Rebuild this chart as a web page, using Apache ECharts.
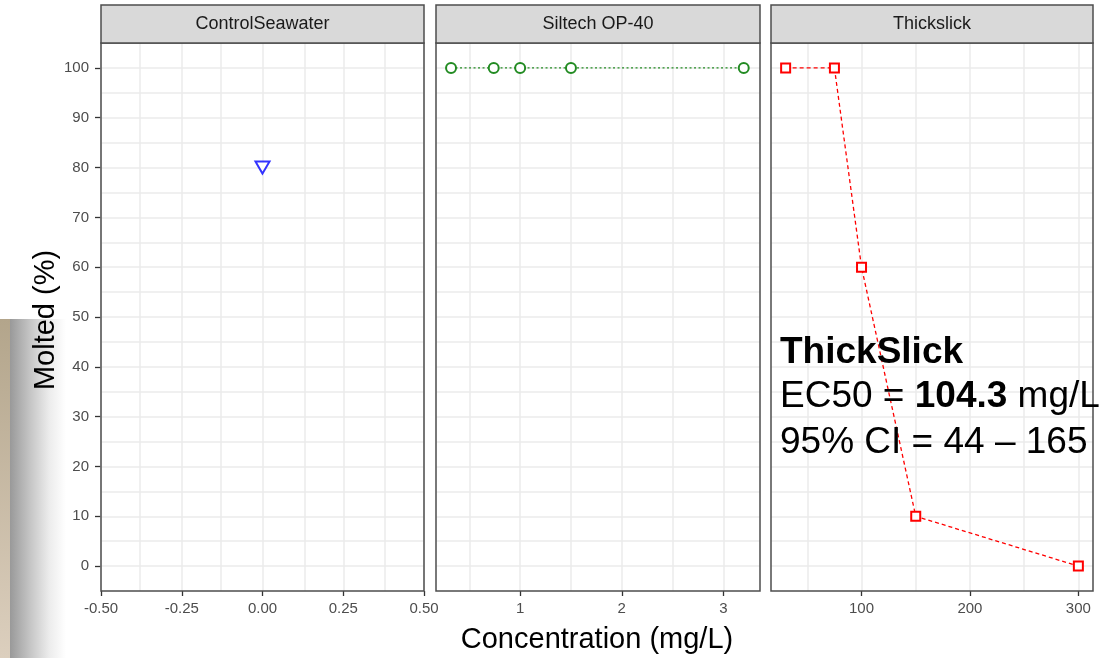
<!DOCTYPE html>
<html><head><meta charset="utf-8">
<script src="https://cdn.jsdelivr.net/npm/echarts@6/dist/echarts.min.js"></script>
<style>html,body{margin:0;padding:0;background:#fff}#c{width:1102px;height:658px}</style>
</head><body><div id="c"></div>
<script>
// ---- data ----
const panelTitles = ['ControlSeawater', 'Siltech OP-40', 'Thickslick'];
const controlX = [0];
const controlY = [80];
const siltechX = [0.32, 0.74, 1, 1.5, 3.2];
const siltechY = [100, 100, 100, 100, 100];
const thickX = [30, 75, 100, 150, 300];
const thickY = [100, 100, 60, 10, 0];
const yTicks = [0, 10, 20, 30, 40, 50, 60, 70, 80, 90, 100];
const yMinor = [5, 15, 25, 35, 45, 55, 65, 75, 85, 95];
const x1Ticks = [-0.5, -0.25, 0, 0.25, 0.5];
const x1Minor = [-0.375, -0.125, 0.125, 0.375];
const x2Ticks = [1, 2, 3];
const x2Minor = [0.5, 1.5, 2.5];
const x3Ticks = [100, 200, 300];
const x3Minor = [50, 150, 250];
const xRanges = [[-0.5, 0.5], [0.172, 3.36], [16.5, 313.5]];
const yRange = [-5, 105];

// ---- layout ----
const FONT = '"Liberation Sans", Arial, sans-serif';
const panelsPx = [{left: 101, width: 323}, {left: 436, width: 324}, {left: 771, width: 322}];
const TOP = 43, HEIGHT = 548;
const GRID = '#ebebeb';

const xTicksAll = [x1Ticks, x2Ticks, x3Ticks];
const xMinorAll = [x1Minor, x2Minor, x3Minor];
const xFormat = [v => v.toFixed(2), v => String(v), v => String(v)];

const grids = panelsPx.map(p => ({left: p.left, width: p.width, top: TOP, height: HEIGHT, containLabel: false}));

const xAxes = panelsPx.map((p, i) => ({
  type: 'value', gridIndex: i, min: xRanges[i][0], max: xRanges[i][1], position: 'bottom',
  axisLine: {show: false, onZero: false},
  axisTick: {show: true, length: 5, lineStyle: {color: '#333', width: 1.3}, customValues: xTicksAll[i]},
  axisLabel: {show: true, margin: 10, color: '#4d4d4d', fontSize: 15, fontFamily: FONT,
    customValues: xTicksAll[i], formatter: xFormat[i]},
  splitLine: {show: false}
}));

const yAxes = panelsPx.map((p, i) => ({
  type: 'value', gridIndex: i, min: yRange[0], max: yRange[1], position: 'left',
  axisLine: {show: false, onZero: false},
  axisTick: {show: i === 0, length: 6, lineStyle: {color: '#333', width: 1.3}, customValues: yTicks},
  axisLabel: {show: i === 0, margin: 12, color: '#4d4d4d', fontSize: 15, fontFamily: FONT, customValues: yTicks},
  splitLine: {show: false}
}));

const gridSeries = panelsPx.map((p, i) => ({
  type: 'line', xAxisIndex: i, yAxisIndex: i, data: [], silent: true, z: 1,
  markLine: {
    silent: true, symbol: ['none', 'none'], label: {show: false}, animation: false,
    lineStyle: {color: GRID, width: 1.5, type: 'solid'},
    emphasis: {disabled: true},
    data: [
      ...xTicksAll[i].map(v => ({xAxis: v})),
      ...xMinorAll[i].map(v => ({xAxis: v})),
      ...yTicks.map(v => ({yAxis: v})),
      ...yMinor.map(v => ({yAxis: v}))
    ]
  }
}));

const zip = (xs, ys) => xs.map((x, k) => [x, ys[k]]);

const dataSeries = [
  {type: 'scatter', xAxisIndex: 0, yAxisIndex: 0, data: zip(controlX, controlY),
    symbol: 'emptyTriangle', symbolRotate: 180, symbolSize: [14, 12],
    itemStyle: {color: '#0000ff', borderColor: '#0000ff', borderWidth: 1.4}, z: 5},
  {type: 'line', xAxisIndex: 1, yAxisIndex: 1, data: zip(siltechX, siltechY),
    symbol: 'emptyCircle', symbolSize: 10, showAllSymbol: true,
    lineStyle: {color: '#228b22', width: 1.4, type: [2, 2.5]},
    itemStyle: {color: '#228b22', borderColor: '#228b22', borderWidth: 1.4}, z: 5},
  {type: 'line', xAxisIndex: 2, yAxisIndex: 2, data: zip(thickX, thickY),
    symbol: 'emptyRect', symbolSize: 9, showAllSymbol: true,
    lineStyle: {color: '#ff0000', width: 1.3, type: [4, 3]},
    itemStyle: {color: '#ff0000', borderColor: '#ff0000', borderWidth: 1.4}, z: 5}
];

const graphics = [];
// left slide decoration
graphics.push({type: 'rect', z: -10, shape: {x: 10, y: 319, width: 56, height: 339},
  style: {fill: new echarts.graphic.LinearGradient(0, 0, 1, 0, [
    {offset: 0, color: '#999999'}, {offset: 0.35, color: '#c4c4c4'}, {offset: 0.7, color: '#ececec'}, {offset: 1, color: '#ffffff'}])}});
graphics.push({type: 'rect', z: -9, shape: {x: 0, y: 319, width: 10, height: 339},
  style: {fill: new echarts.graphic.LinearGradient(0, 0, 0, 1, [
    {offset: 0, color: '#b3a58b'}, {offset: 1, color: '#dccfbe'}])}});
// panel borders and strips
panelsPx.forEach((p, i) => {
  graphics.push({type: 'rect', z: 50, shape: {x: p.left, y: TOP, width: p.width, height: HEIGHT},
    style: {fill: 'none', stroke: '#4d4d4d', lineWidth: 1.5}});
  graphics.push({type: 'rect', z: 50, shape: {x: p.left, y: 5, width: p.width, height: TOP - 5},
    style: {fill: '#d9d9d9', stroke: '#4d4d4d', lineWidth: 1.5}});
  graphics.push({type: 'text', z: 51, x: p.left + p.width / 2, y: 24,
    style: {text: panelTitles[i], fill: '#1a1a1a', font: '18px ' + FONT, textAlign: 'center', textVerticalAlign: 'middle'}});
});
// axis titles
graphics.push({type: 'text', z: 51, x: 597, y: 640,
  style: {text: 'Concentration (mg/L)', fill: '#000', font: '29px ' + FONT, textAlign: 'center', textVerticalAlign: 'middle'}});
graphics.push({type: 'text', z: 51, x: 46, y: 320, rotation: Math.PI / 2,
  style: {text: 'Molted (%)', fill: '#000', font: '29px ' + FONT, textAlign: 'center', textVerticalAlign: 'middle'}});
// annotation
const annFont = '37px ' + FONT;
const annBold = 'bold 37px ' + FONT;
graphics.push({type: 'text', z: 60, x: 780, y: 353,
  style: {text: 'ThickSlick', fill: '#000', font: annBold, textAlign: 'left', textVerticalAlign: 'middle'}});
graphics.push({type: 'text', z: 60, x: 780, y: 397,
  style: {text: '{n|EC50 = }{b|104.3}{n| mg/L}', textAlign: 'left', textVerticalAlign: 'middle',
    rich: {n: {font: annFont, fill: '#000'}, b: {font: annBold, fill: '#000'}}}});
graphics.push({type: 'text', z: 60, x: 780, y: 443,
  style: {text: '95% CI = 44 \u2013 165', fill: '#000', font: annFont, textAlign: 'left', textVerticalAlign: 'middle'}});

const chart = echarts.init(document.getElementById('c'), null, {renderer: 'canvas'});
chart.setOption({
  animation: false,
  backgroundColor: '#ffffff',
  grid: grids,
  xAxis: xAxes,
  yAxis: yAxes,
  series: [...gridSeries, ...dataSeries],
  graphic: graphics
});
</script>
</body></html>
